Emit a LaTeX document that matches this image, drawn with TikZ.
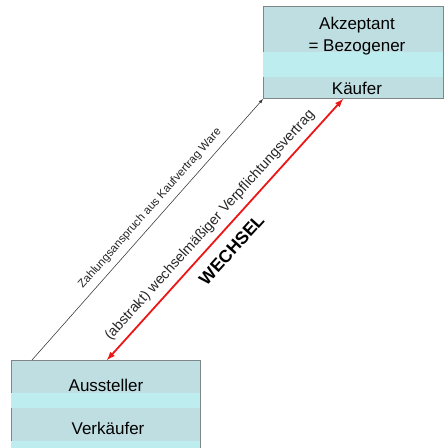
\documentclass[tikz,border=0pt]{standalone}
\usepackage{fontspec}
\setmainfont{Liberation Sans}
\usetikzlibrary{arrows.meta,positioning,calc}
\definecolor{bandDark}{RGB}{191,222,226}
\definecolor{bandLight}{RGB}{190,237,240}
\definecolor{boxLine}{RGB}{125,135,136}
\definecolor{wechselRed}{RGB}{236,22,22}
\tikzstyle{box} = [rectangle,draw=boxLine,fill=bandDark,inner sep=0pt,line width=0.9pt]
\tikzstyle{boxtext} = [inner sep=0pt,font=\fontsize{17}{22}\selectfont,align=center]
\tikzset{>=latex}

\begin{document}
\begin{tikzpicture}[x=1pt,y=1pt]
    \useasboundingbox (0,0) rectangle (444,448);
    \clip (0,0) rectangle (444,448);

    % Akzeptant box (top right)
    \node [box,minimum width=180pt,minimum height=92pt,anchor=south west] (akz) at (263,349) {};
    \fill [bandLight] ([xshift=0.45pt,yshift=22pt]akz.south west) rectangle ([xshift=-0.45pt,yshift=47pt]akz.south east);
    \node [boxtext] (akzName) at (357,412) {Akzeptant\\= Bezogener};
    \node [boxtext] (kaeufer) at (357,360) {Käufer};

    % Aussteller box (bottom left)
    \node [box,minimum width=189pt,minimum height=100pt,anchor=north west] (ausst) at (11,88) {};
    \fill [bandLight] ([xshift=0.45pt,yshift=-33pt]ausst.north west) rectangle ([xshift=-0.45pt,yshift=-48pt]ausst.north east);
    \fill [bandLight] ([xshift=0.45pt,yshift=-81pt]ausst.north west) rectangle ([xshift=-0.45pt,yshift=-99.5pt]ausst.north east);
    \node [boxtext] (ausName) at (106,63) {Aussteller};
    \node [boxtext] (verkaeufer) at (108,20) {Verkäufer};

    % Forderung aus Kaufvertrag
    \draw [->,line width=0.55pt,black!80] ($(ausst.north west)+(21,0)$) -- (akz.south west)
      node [pos=0.55,sloped,above=3pt,font=\fontsize{11.5}{13}\selectfont,black!85] (zahlung) {Zahlungsanspruch aus Kaufvertrag Ware};

    % Wechsel
    \draw [<->,line width=1.8pt,wechselRed] ($(ausst.north west)+(96,0)$) -- ($(akz.south west)+(80,0)$)
      node [pos=0.48,sloped,above=3pt,font=\fontsize{14.2}{16}\selectfont,black!85] (vertrag) {(abstrakt) wechselmäßiger Verpflichtungsvertrag}
      node [pos=0.47,sloped,below=8pt,font=\fontsize{17.5}{19}\selectfont\bfseries,black] (wechsel) {WECHSEL};
\end{tikzpicture}
\end{document}
